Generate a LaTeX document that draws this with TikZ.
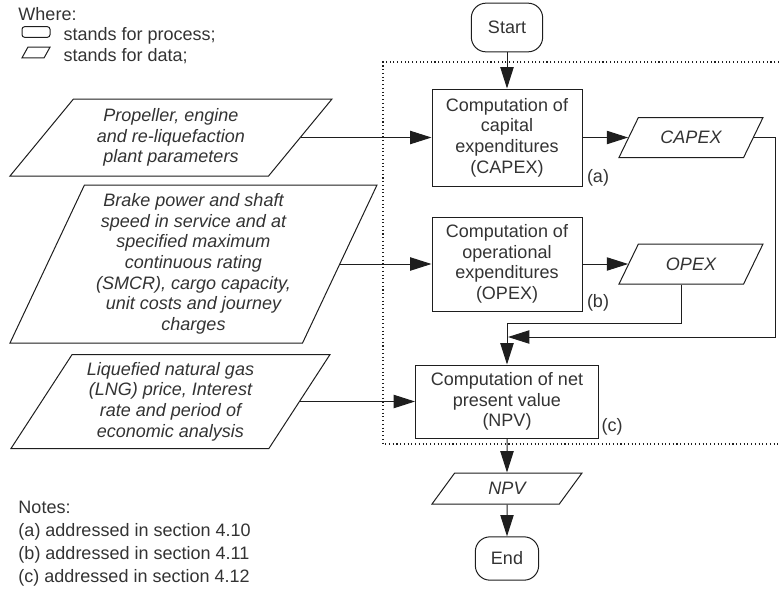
\documentclass[tikz,border=0pt]{standalone}
\usepackage{fontspec}
\setmainfont{Liberation Sans}
\usetikzlibrary{shapes.geometric,arrows.meta,positioning,calc}
\definecolor{fcLine}{HTML}{1E1E1E}
\definecolor{fcText}{HTML}{333333}
\tikzset{
  fc/.style={font=\fontsize{13.5}{15.5}\selectfont, text=fcText, line width=.75pt, >={Triangle[length=16pt, width=10pt]}},
  proc/.style={draw=fcLine, fill=white, align=center, inner sep=2pt, minimum width=112.5pt},
  term/.style={draw=fcLine, fill=white, rounded corners=11pt, align=center, inner sep=2pt},
  data/.style={draw=fcLine, fill=white, trapezium, trapezium stretches body, align=center, inner sep=2pt, font=\fontsize{13.5}{15.5}\selectfont\itshape},
  flow/.style={->, draw=fcLine, line width=.75pt},
  frame/.style={draw=fcLine, dotted, line width=.8pt},
  tag/.style={inner sep=0pt},
  legtxt/.style={anchor=base west, inner sep=0pt},
}
\begin{document}
\begin{tikzpicture}[fc, x=.75pt, y=-.75pt]
\useasboundingbox (0,0) rectangle (779,590);
% legenda
\node[legtxt] (where) at (18,20) {Where:};
\node[draw=fcLine, rounded corners=2pt, minimum width=21pt, minimum height=8pt, inner sep=0pt] (legproc) at (36,32) {};
\node[draw=fcLine, trapezium, trapezium stretches body, trapezium left angle=61, trapezium right angle=119, minimum width=21pt, inner xsep=0pt, inner ysep=4pt] (legdata) at (36,52.5) {};
\node[legtxt] (legproctxt) at (63,40) {stands for process;};
\node[legtxt] (legdatatxt) at (63,61) {stands for data;};
% ramka
\draw[frame] (779,62) -| (383,444) -- (779,444);
% proces
\node[term, minimum width=53.5pt, minimum height=36.5pt] (start) at (507,27.5) {Start};
\node[proc, minimum height=72.75pt] (capex) at (507,137.5) {Computation of\\capital\\expenditures\\(CAPEX)};
\node[proc, minimum height=70.5pt] (opex) at (507,264) {Computation of\\operational\\expenditures\\(OPEX)};
\node[proc, minimum width=137.25pt, minimum height=54.75pt] (npv) at (507,401.5) {Computation of net\\present value\\(NPV)};
\node[term, minimum width=47.5pt, minimum height=32.5pt] (end) at (507,558.5) {End};
% dane
\node[data, trapezium left angle=43, trapezium right angle=137, minimum width=108pt, minimum height=30pt] (capexd) at (691,137.5) {CAPEX};
\node[data, trapezium left angle=43, trapezium right angle=137, minimum width=108pt, minimum height=30pt] (opexd) at (691,264) {OPEX};
\node[data, trapezium left angle=38, trapezium right angle=142, minimum width=112.5pt, minimum height=23.25pt] (npvd) at (507,488.5) {NPV};
\node[data, trapezium left angle=45, trapezium right angle=135, minimum width=241.5pt, minimum height=57.75pt] (prop) at (171,137.5) {Propeller, engine\\and re-liquefaction\\plant parameters};
\node[data, trapezium left angle=63, trapezium right angle=117, minimum width=275.25pt, minimum height=118.5pt] (brake) at (193.5,264) {Brake power and shaft\\speed in service and at\\specified maximum\\continuous rating\\(SMCR), cargo capacity,\\unit costs and journey\\charges};
\node[data, trapezium left angle=54, trapezium right angle=126, minimum width=239.25pt, minimum height=70.5pt] (lng) at (170.5,401.5) {Liquefied natural gas\\(LNG) price, Interest\\rate and period of\\economic analysis};
% znaczniki
\node[tag] (taga) at (598,178) {(a)};
\node[tag] (tagb) at (598,303) {(b)};
\node[tag] (tagc) at (612,427) {(c)};
% uwagi
\node[legtxt] (notes) at (18,513) {Notes:};
\node[legtxt] (notea) at (18,536) {(a) addressed in section 4.10};
\node[legtxt] (noteb) at (18,559) {(b) addressed in section 4.11};
\node[legtxt] (notec) at (18,582) {(c) addressed in section 4.12};

\coordinate (opexbend) at (507,323);
\coordinate (capexturn) at (775,337);
\coordinate (join) at (508,337);
\draw[flow] (start) -- (capex);
\draw[flow] (prop.right side) -- (capex.west);
\draw[flow] (capex.east) -- (capexd.left side);
\draw[flow] (brake.right side) -- (opex.west);
\draw[flow] (opex.east) -- (opexd.left side);
\draw[flow] (lng.right side) -- (npv.west);
\draw[flow] (opexd.bottom side) |- (opexbend) -- (npv.north);
\draw[flow] (capexd.right side) -| (capexturn) -- (join);
\draw[flow] (npv) -- (npvd);
\draw[flow] (npvd) -- (end);
\end{tikzpicture}
\end{document}
